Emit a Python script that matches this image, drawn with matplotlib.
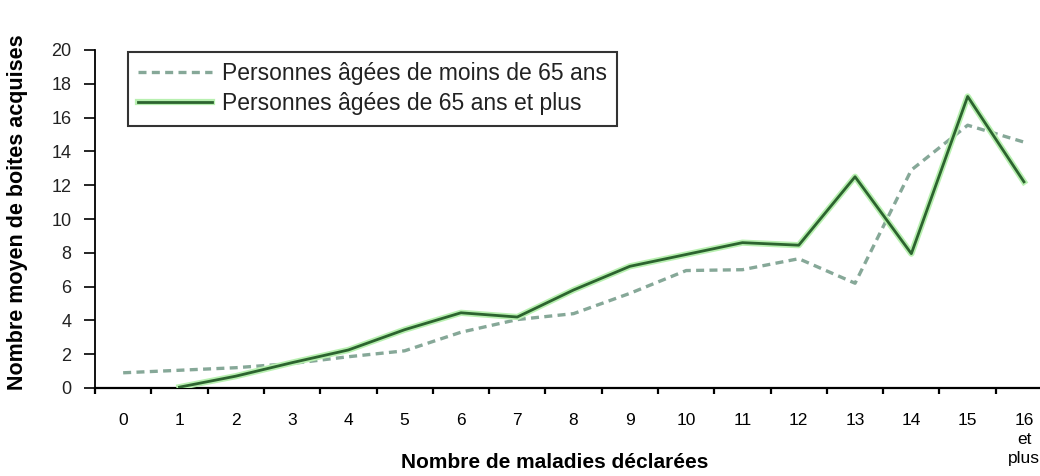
import numpy as np
import matplotlib
matplotlib.use("Agg")
import matplotlib.pyplot as plt
import matplotlib.patheffects as pe

# ---- data ----
categories = ["0", "1", "2", "3", "4", "5", "6", "7", "8", "9", "10",
              "11", "12", "13", "14", "15", "16\net\nplus"]
moins_65 = [0.9, 1.05, 1.2, 1.45, 1.85, 2.2, 3.3, 4.05, 4.4, 5.6, 6.95,
            7.0, 7.65, 6.2, 12.9, 15.55, 14.55]
plus_65 = [np.nan, 0.05, 0.7, 1.5, 2.25, 3.45, 4.45, 4.2, 5.8, 7.2, 7.9,
           8.6, 8.45, 12.5, 7.95, 17.25, 12.2]
yticks = list(range(0, 21, 2))
label_moins = "Personnes âgées de moins de 65 ans"
label_plus = "Personnes âgées de 65 ans et plus"
xlabel = "Nombre de maladies déclarées"
ylabel = "Nombre moyen de boites acquises"

W, H = 1040, 476
fig = plt.figure(figsize=(W / 100, H / 100), dpi=100)
plt.rcParams['font.family'] = ['Liberation Sans', 'DejaVu Sans']

x = np.arange(len(categories))
step = 56.3
left_px, right_px = 95, 95 + step * 17
bottom_px, top_px = 388, 50
ax = fig.add_axes([left_px / W, (H - bottom_px) / H,
                   (right_px - left_px) / W, (bottom_px - top_px) / H])

glow = [pe.Stroke(linewidth=4.5, foreground="#b8f0b0"), pe.Normal()]
ax.plot(x, moins_65, color="#86a898", lw=2.4, linestyle=(0, (2.4, 1.6)),
        label=label_moins, zorder=3)
ax.plot(x, plus_65, color="#2c642f", lw=2.0, label=label_plus,
        path_effects=glow, zorder=4)

ax.set_xlim(-0.5, 16.5)
ax.set_ylim(0, 20)
ax.set_yticks(yticks)
ax.set_yticklabels([str(v) for v in yticks], fontsize=13, color="#222222")
ax.set_xticks(x)
ax.set_xticklabels(categories, fontsize=12.5, linespacing=1.35, va="top")
ax.set_xticks(np.arange(-0.5, 16.5, 1), minor=True)
ax.tick_params(axis="x", which="major", length=0, pad=18)
ax.tick_params(axis="x", which="minor", length=4, width=1.6, direction="out")
ax.tick_params(axis="y", length=8, width=1.2, direction="out", pad=9)

for s in ("top", "right"):
    ax.spines[s].set_visible(False)
ax.spines["left"].set_linewidth(1.3)
ax.spines["bottom"].set_linewidth(1.6)

fig.text(555 / W, 1 - 463 / H, xlabel, ha="center", va="center",
         fontsize=15, fontweight="bold")
fig.text(18 / W, 1 - 212 / H, ylabel, ha="center", va="center",
         rotation=90, fontsize=15.5, fontweight="bold")

leg = ax.legend(loc="upper left", bbox_to_anchor=(128 / W, 1 - 52 / H),
                bbox_transform=fig.transFigure, fontsize=16.5,
                frameon=True, fancybox=False, handlelength=3.2,
                handletextpad=0.45, borderpad=0.45, labelspacing=0.3,
                borderaxespad=0)
leg.get_frame().set_edgecolor("black")
leg.get_frame().set_linewidth(1.5)
for t in leg.get_texts():
    t.set_color("#222222")

fig.savefig("out.png", dpi=100)
